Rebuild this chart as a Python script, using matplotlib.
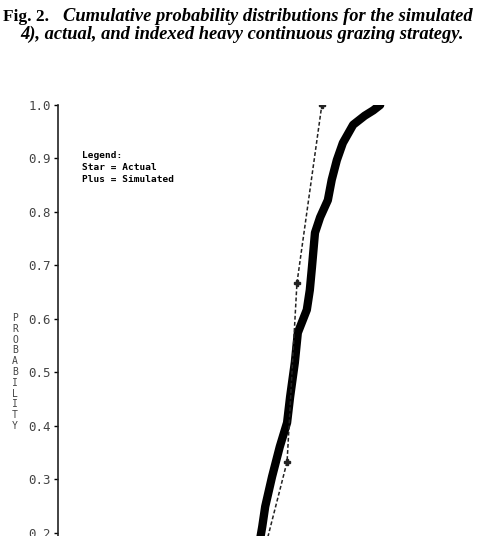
import matplotlib.pyplot as plt

# cumulative distributions (x in arbitrary units, axis not shown in crop)
actual_x = [44.0, 46.5, 47.6, 48.3, 49.9, 51.7, 53.4, 54.1, 55.2, 55.9, 58.0, 58.7,
            59.2, 59.9, 61.1, 62.9, 63.8, 65.0, 66.4, 68.8, 71.5, 73.5, 75.1]
actual_p = [0.10, 0.16, 0.211, 0.249, 0.305, 0.361, 0.406, 0.454, 0.518, 0.574, 0.617, 0.654,
            0.697, 0.761, 0.79, 0.822, 0.86, 0.897, 0.929, 0.963, 0.98, 0.99, 1.0]

sim_x = [42.8, 53.4, 55.7, 61.5]
sim_p = [0.0, 0.333, 0.667, 1.0]

yticks = [0.2, 0.3, 0.4, 0.5, 0.6, 0.7, 0.8, 0.9, 1.0]
ytick_labels = ["0.2", "0.3", "0.4", "0.5", "0.6", "0.7", "0.8", "0.9", "1.0"]

W, H = 487, 536
fig = plt.figure(figsize=(W / 100, H / 100), dpi=100)
ax = fig.add_axes([58 / W, 0, 1 - 58 / W, 1 - 105 / H])

ax.plot(actual_x, actual_p, c='black', lw=6, solid_capstyle='round', solid_joinstyle='round')
ax.plot(sim_x, sim_p, c='#222222', lw=1.1, ls=(0, (2.5, 1.5)), marker='P', ms=4)

ax.set_xlim(0, 100)
ax.set_ylim(0.194, 1.0)
ax.set_yticks(yticks)
ax.set_yticklabels(ytick_labels, fontfamily='DejaVu Sans Mono', fontsize=9, color='#444444')
ax.tick_params(axis='y', direction='out', length=3, width=1, pad=2)
ax.set_xticks([])
for s in ['top', 'right', 'bottom']:
    ax.spines[s].set_visible(False)
ax.spines['left'].set_linewidth(1.2)
ax.spines['left'].set_color('#222222')

# stacked y label
fig.text(15 / W, 1 - 372 / H, "\n".join("PROBABILITY"), ha='center', va='center',
         fontfamily='DejaVu Sans Mono', fontsize=7, linespacing=1.1, color='#444444')

# legend block
fig.text(82 / W, 1 - 151 / H, "Legend:\nStar = Actual\nPlus = Simulated", ha='left', va='top',
         fontfamily='DejaVu Sans Mono', fontsize=6.8, fontweight='bold', linespacing=1.45)

# caption
fig.text(3 / W, 1 - 21 / H, "Fig. 2.", ha='left', va='baseline',
         fontfamily='Liberation Serif', fontsize=12.5, fontweight='bold')
fig.text(63 / W, 1 - 21 / H, "Cumulative probability distributions for the simulated",
         ha='left', va='baseline', fontfamily='Liberation Serif', fontsize=13.3,
         fontweight='bold', fontstyle='italic')
fig.text(20 / W, 1 - 39 / H, "4), actual, and indexed heavy continuous grazing strategy.",
         ha='left', va='baseline', fontfamily='Liberation Serif', fontsize=13.3,
         fontweight='bold', fontstyle='italic')

fig.savefig("out.png", dpi=100)
